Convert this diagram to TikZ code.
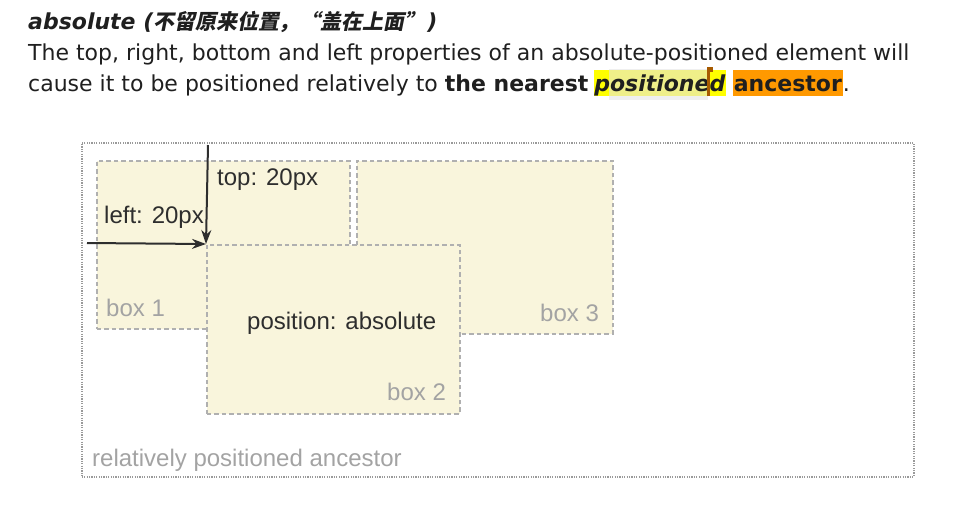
\documentclass[tikz,border=0pt]{standalone}
\usepackage{fontspec}
\usepackage{xcolor}
\usepackage{tikz}
\usetikzlibrary{positioning,arrows.meta}
\setmainfont{DejaVu Sans}
\newfontfamily\diagfont{Liberation Sans}
\newfontfamily\cjk[FakeSlant=0.2,Scale=0.95]{Noto Sans CJK SC}
\definecolor{boxfill}{HTML}{F9F5DC}
\definecolor{boxborder}{HTML}{B0B0B0}
\definecolor{outerborder}{HTML}{9A9A9A}
\definecolor{labelgray}{HTML}{A3A3A3}
\definecolor{inktext}{HTML}{2E2E2E}
\definecolor{markyellow}{HTML}{FFFF00}
\definecolor{markorange}{HTML}{FF9900}
\definecolor{cursorbrown}{HTML}{A65A00}
\pgfdeclarelayer{background}
\pgfsetlayers{background,main}

\begin{document}
\begin{tikzpicture}[
  x=1pt, y=-1pt,
  para/.style={anchor=base west, inner sep=0pt, font=\fontsize{22}{26}\selectfont, text=black!88},
  marked/.style={para, inner xsep=0.5pt, text height=21pt, text depth=5pt},
  cssbox/.style={rectangle, anchor=north west, inner sep=0pt, fill=boxfill, draw=boxborder,
                 line width=1.6pt, dash pattern=on 4.5pt off 3pt},
  ancestor/.style={rectangle, anchor=north west, inner sep=0pt, draw=outerborder,
                   line width=1.5pt, dash pattern=on 1.2pt off 1.2pt},
  boxlabel/.style={anchor=base west, inner sep=0pt, font=\diagfont\fontsize{24}{28}\selectfont, text=labelgray},
  note/.style={anchor=base west, inner sep=0pt, font=\diagfont\fontsize{24}{28}\selectfont, text=inktext},
  offset/.style={-{Stealth[length=14pt,width=10pt]}, line width=2pt, draw=inktext},
]
  \useasboundingbox (0,0) rectangle (955,507);

  % heading and explanation
  \node[para] (title) at (28,29) {\textbf{\textit{absolute (}}{\cjk\bfseries 不留原来位置，“盖在上面”}\kern2pt\textbf{\textit{)}}};
  \node[para] (line1) at (28,60) {The top, right, bottom and left properties of an absolute-positioned element will};
  \node[para] (line2) at (28,91) {cause it to be positioned relatively to \textbf{the nearest}};
  \node[marked, xshift=5pt] (hlword) at (line2.base east) {\textbf{\textit{positioned}}};
  \node[marked, xshift=7pt] (hlanc) at (hlword.base east) {\textbf{ancestor}};
  \node[para] (stop) at (hlanc.base east) {.};
  \begin{pgfonlayer}{background}
    \fill[markyellow] (hlword.north west) rectangle (hlword.south east);
    \fill[black!10, opacity=0.6] (609,69) rectangle (708,100);
    \fill[markorange] (hlanc.north west) rectangle (hlanc.south east);
  \end{pgfonlayer}
  \fill[cursorbrown] (707,67) rectangle (710,96);
  \fill[cursorbrown] (709,67) rectangle (713,72);

  % the diagram
  \node[ancestor, minimum width=832pt, minimum height=334pt] (anc) at (81,142) {};
  \node[cssbox, minimum width=253pt, minimum height=168pt] (box1) at (96,160) {};
  \node[cssbox, minimum width=256pt, minimum height=173pt] (box3) at (356,160) {};
  \node[cssbox, minimum width=253pt, minimum height=169pt] (box2) at (206,244) {};

  \node[boxlabel] (box1name) at (106,316) {box 1};
  \node[boxlabel] (box3name) at (540,321) {box 3};
  \node[boxlabel] (box2name) at (387,400) {box 2};
  \node[note] (posnote) at (247,329) {position: absolute};
  \node[note] (topnote) at (217,185) {top: 20px};
  \node[note] (leftnote) at (104,223) {left: 20px};
  \node[boxlabel] (ancname) at (92,466) {relatively positioned ancestor};

  \coordinate (topstart) at (208,145);
  \coordinate (leftstart) at (87,243);
  \draw[offset] (topstart) -- (box2.north west);
  \draw[offset] (leftstart) -- (box2.north west);
\end{tikzpicture}
\end{document}
